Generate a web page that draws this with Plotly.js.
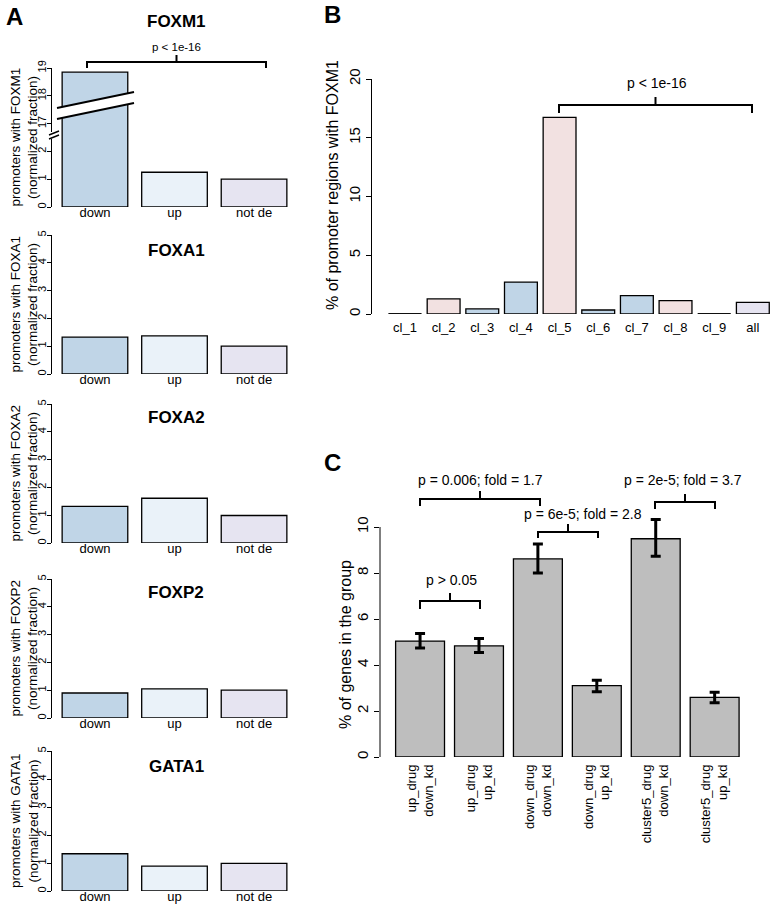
<!DOCTYPE html>
<html>
<head>
<meta charset="utf-8">
<script src="https://cdn.plot.ly/plotly-3.0.1.min.js"></script>
<style>
  body { margin: 0; background: #fff; }
  #fig { width: 771px; height: 907px; }
</style>
</head>
<body>
<div id="fig"></div>
<script>
// ---- data ----
const groupsA = ['down', 'up', 'not de'];
const factorsA = ['FOXM1', 'FOXA1', 'FOXA2', 'FOXP2', 'GATA1'];
const foxm1 = [18.85, 1.25, 1.0];
const foxa1 = [1.33, 1.37, 1.0];
const foxa2 = [1.32, 1.61, 0.99];
const foxp2 = [0.9, 1.05, 1.0];
const gata1 = [1.33, 0.89, 0.99];
const colorsA = ['#c0d5e7', '#eaf2f9', '#e6e4f1'];
const brokenTickVals = [0, 1, 2, 3, 4, 5];
const brokenTickText = ['0', '1', '2', '17', '18', '19'];

const clusters = ['cl_1', 'cl_2', 'cl_3', 'cl_4', 'cl_5', 'cl_6', 'cl_7', 'cl_8', 'cl_9', 'all'];
const clusterPct = [0, 1.28, 0.43, 2.72, 16.74, 0.34, 1.56, 1.13, 0, 0.99];
const clusterColors = ['#f2e1e1', '#f2e1e1', '#c0d5e7', '#c0d5e7', '#f2e1e1',
                       '#c0d5e7', '#c0d5e7', '#f2e1e1', '#c0d5e7', '#e6e4f1'];

const groupsC = ['up_drug<br>down_kd', 'up_drug<br>up_kd', 'down_drug<br>down_kd',
                 'down_drug<br>up_kd', 'cluster5_drug<br>down_kd', 'cluster5_drug<br>up_kd'];
const genePct = [5.04, 4.83, 8.61, 3.10, 9.49, 2.59];
const errPlus = [0.33, 0.32, 0.65, 0.24, 0.84, 0.23];
const errMinus = [0.30, 0.29, 0.61, 0.26, 0.76, 0.23];

// ---- helpers ----
const W = 771, H = 907;
function px(x) { return x / W; }
function py(y) { return 1 - y / H; }
// the FOXM1 axis jumps from 2 to 17
function breakY(v) { return v > 2.5 ? v - 14 : v; }

const font = 'Liberation Sans, Arial, sans-serif';
let traces = [];
let layout = {
    width: W, height: H,
    margin: { l: 0, r: 0, t: 0, b: 0 },
    paper_bgcolor: '#fff', plot_bgcolor: 'rgba(0,0,0,0)',
    showlegend: false,
    font: { family: font, color: '#000' },
    shapes: [],
    annotations: []
};

function addText(text, x, y, size, opts) {
    layout.annotations.push(Object.assign({
        text: text, xref: 'paper', yref: 'paper', x: px(x), y: py(y),
        xanchor: 'center', yanchor: 'middle', showarrow: false,
        font: { size: size, family: font, color: '#000' }
    }, opts || {}));
}

function addBracket(x0, x1, yBar, yLeg, yTick) {
    let xc = (x0 + x1) / 2;
    layout.shapes.push({
        type: 'path', xref: 'paper', yref: 'paper',
        path: `M ${px(x0)},${py(yLeg)} L ${px(x0)},${py(yBar)} L ${px(x1)},${py(yBar)} L ${px(x1)},${py(yLeg)} ` +
              `M ${px(xc)},${py(yBar)} L ${px(xc)},${py(yTick)}`,
        line: { color: '#000', width: 2 }
    });
}

function yAxisStyle(extra) {
    return Object.assign({
        showline: true, linecolor: '#000', linewidth: 1,
        ticks: 'outside', ticklen: 5, tickcolor: '#000', tickwidth: 1,
        tickangle: -90, showgrid: false, zeroline: false, fixedrange: true
    }, extra);
}

function xAxisStyle(extra) {
    return Object.assign({
        showline: false, ticks: '', showgrid: false, zeroline: false,
        fixedrange: true, tickfont: { size: 13 }
    }, extra);
}

// ---- panel A ----
const seriesA = [foxm1, foxa1, foxa2, foxp2, gata1];
const zeroA = [207, 374, 543, 718, 891];
const topA = [68, 235, 404, 579, 751];
const titleA = [22, 250, 417, 592, 766];

seriesA.forEach(function(vals, i) {
    let n = i + 1;
    let xk = n === 1 ? 'x' : 'x' + n;
    let yk = n === 1 ? 'y' : 'y' + n;
    traces.push({
        type: 'bar', x: groupsA,
        y: i === 0 ? vals.map(breakY) : vals,
        xaxis: xk, yaxis: yk, width: 0.825,
        marker: { color: colorsA, line: { color: '#000', width: 1.3 } },
        hoverinfo: 'skip'
    });
    layout['xaxis' + (n === 1 ? '' : n)] = xAxisStyle({
        domain: [px(52), px(297)], range: [-0.54, 2.54], anchor: yk,
        ticklabelstandoff: -4
    });
    layout['yaxis' + (n === 1 ? '' : n)] = yAxisStyle({
        domain: [py(zeroA[i]), py(topA[i])], range: [0, 5], anchor: xk,
        tickvals: brokenTickVals, ticklen: 4, ticklabelstandoff: -3,
        ticktext: i === 0 ? brokenTickText : brokenTickVals.map(String),
        tickfont: { size: 11 }
    });
    addText('<b>' + factorsA[i] + '</b>', 176, titleA[i], 17);
    let mid = (zeroA[i] + topA[i]) / 2;
    addText('promoters with ' + factorsA[i], 15, mid, 13.5, { textangle: -90 });
    addText('(normalized fraction)', 32.5, mid, 13.5, { textangle: -90 });
});

// broken bar / axis marks for FOXM1
layout.shapes.push({
    type: 'path', xref: 'paper', yref: 'paper',
    path: `M ${px(57)},${py(108)} L ${px(134)},${py(92)} L ${px(134)},${py(103)} L ${px(57)},${py(119)} Z`,
    fillcolor: '#fff', line: { width: 0 }
});
layout.shapes.push({ type: 'line', xref: 'paper', yref: 'paper',
    x0: px(57), y0: py(108), x1: px(134), y1: py(92), line: { color: '#000', width: 2 } });
layout.shapes.push({ type: 'line', xref: 'paper', yref: 'paper',
    x0: px(57), y0: py(119), x1: px(134), y1: py(103), line: { color: '#000', width: 2 } });
layout.shapes.push({ type: 'rect', xref: 'paper', yref: 'paper',
    x0: px(49), y0: py(139), x1: px(56), y1: py(132), fillcolor: '#fff', line: { width: 0 } });
layout.shapes.push({ type: 'line', xref: 'paper', yref: 'paper',
    x0: px(49), y0: py(135), x1: px(59), y1: py(131), line: { color: '#000', width: 1.5 } });
layout.shapes.push({ type: 'line', xref: 'paper', yref: 'paper',
    x0: px(49), y0: py(139), x1: px(59), y1: py(135), line: { color: '#000', width: 1.5 } });

addBracket(87, 266, 62, 68, 55);
addText('p < 1e-16', 176, 47, 11.5);
addText('<b>A</b>', 14, 16, 24);

// ---- panel B ----
traces.push({
    type: 'bar', x: clusters, y: clusterPct, xaxis: 'x6', yaxis: 'y6', width: 0.85,
    marker: { color: clusterColors, line: { color: '#000', width: 1.3 } },
    hoverinfo: 'skip'
});
layout.xaxis6 = xAxisStyle({
    domain: [px(372), px(771)], range: [-0.853, 9.47], anchor: 'y6',
    ticklabelstandoff: 4
});
layout.yaxis6 = yAxisStyle({
    domain: [py(314), py(79)], range: [0, 20], anchor: 'x6',
    tickvals: [0, 5, 10, 15, 20], tickfont: { size: 15 }
});
// zero-height bars are drawn as a flat line
clusterPct.forEach(function(v, i) {
    if (v === 0) {
        layout.shapes.push({ type: 'line', xref: 'x6', yref: 'y6',
            x0: i - 0.425, x1: i + 0.425, y0: 0, y1: 0,
            line: { color: '#000', width: 1.3 } });
    }
});
addBracket(559, 752, 105, 113, 97);
addText('p < 1e-16', 657, 83, 14);
addText('% of promoter regions with FOXM1', 332, 185, 16, { textangle: -90 });
addText('<b>B</b>', 332, 15, 24);

// ---- panel C ----
// y range goes a bit past 10 so the top error bar is not clipped;
// the axis line itself stops at 10 like the original
const yTopC = 10.6;
traces.push({
    type: 'bar', x: groupsC, y: genePct, xaxis: 'x7', yaxis: 'y7', width: 0.83,
    cliponaxis: false,
    marker: { color: '#bebebe', line: { color: '#000', width: 1.3 } },
    error_y: { type: 'data', symmetric: false, array: errPlus, arrayminus: errMinus,
               color: '#000', thickness: 3, width: 5 },
    hoverinfo: 'skip'
});
layout.xaxis7 = xAxisStyle({
    domain: [px(380), px(760)], range: [-0.68, 5.77], anchor: 'y7',
    tickangle: -90, ticklabelstandoff: 4
});
layout.yaxis7 = yAxisStyle({
    domain: [py(757), py(757 - 23 * yTopC)], range: [0, yTopC], anchor: 'x7',
    showline: false,
    tickvals: [0, 2, 4, 6, 8, 10], tickfont: { size: 15 }
});
layout.shapes.push({ type: 'line', xref: 'paper', yref: 'y7',
    x0: px(380), x1: px(380), y0: 0, y1: 10, line: { color: '#000', width: 1 } });
addBracket(420, 480, 601, 609, 593);
addText('p > 0.05', 451, 580, 14);
addBracket(420, 540, 499, 506, 491);
addText('p = 0.006; fold = 1.7', 480, 480, 14);
addBracket(538, 598, 532, 538, 524);
addText('p = 6e-5; fold = 2.8', 583, 514, 14);
addBracket(655, 715, 502, 509, 494);
addText('p = 2e-5; fold = 3.7', 683, 480, 14);
addText('% of genes in the group', 345, 645, 16, { textangle: -90 });
addText('<b>C</b>', 332, 462, 24);

Plotly.newPlot('fig', traces, layout, { staticPlot: true });
</script>
</body>
</html>
